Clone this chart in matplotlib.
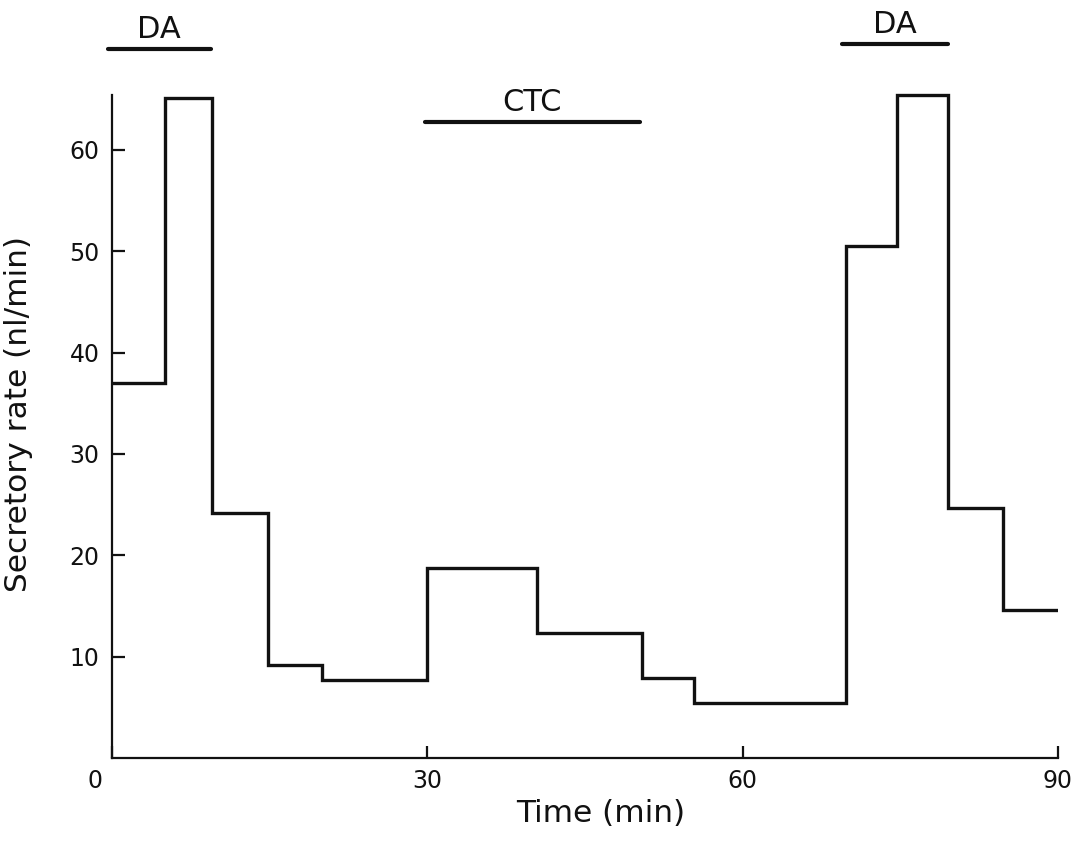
import matplotlib
matplotlib.use("Agg")
import matplotlib.pyplot as plt
import matplotlib.transforms as mtransforms

plt.rcParams["font.family"] = ["DejaVu Sans"]

# Collection-period edges (min) and the secretory rate measured in each period
edges = [0, 5, 9.5, 14.8, 20, 30, 40.4, 50.4, 55.4, 69.8, 74.7, 79.5, 84.8, 90]
rates = [37.0, 65.1, 24.2, 9.2, 7.7, 18.7, 12.3, 7.9, 5.4, 50.5, 65.4, 24.7, 14.6]

# Drug application periods shown as bars above the trace
treat_labels = ["DA", "CTC", "DA"]
treat_start = [-0.4, 29.8, 69.5]
treat_end = [9.4, 50.2, 79.5]
treat_level = [69.9, 62.7, 70.4]

xticks = [0, 30, 60, 90]
xticklabels = ["0", "30", "60", "90"]
yticks = [10, 20, 30, 40, 50, 60]
yticklabels = ["10", "20", "30", "40", "50", "60"]

ink = "#111111"

fig = plt.figure(figsize=(10.87, 8.46), dpi=100)
ax = fig.add_axes([0.1030, 0.1040, 0.8703, 0.8747])

ax.stairs(rates, edges, baseline=None, color=ink, linewidth=2.4)

for lab, x0, x1, lvl in zip(treat_labels, treat_start, treat_end, treat_level):
    ax.plot([x0, x1], [lvl, lvl], color=ink, linewidth=3.0,
            solid_capstyle="round", clip_on=False)
    ax.text((x0 + x1) / 2, lvl + 1.15, lab, ha="center", va="baseline",
            fontsize=22, color=ink, clip_on=False)

ax.set_xlim(0, 90)
ax.set_ylim(0, 73)

ax.spines["top"].set_visible(False)
ax.spines["right"].set_visible(False)
ax.spines["left"].set_bounds(0, 65.4)
for s in ("left", "bottom"):
    ax.spines[s].set_linewidth(1.6)
    ax.spines[s].set_color(ink)

ax.set_xticks(xticks)
ax.set_xticklabels(xticklabels)
ax.set_yticks(yticks)
ax.set_yticklabels(yticklabels)
ax.tick_params(axis="both", direction="in", length=9, width=1.6,
               colors=ink, labelsize=17)
ax.tick_params(axis="x", pad=8)
ax.tick_params(axis="y", pad=9)

# Origin label sits to the lower left of the corner
shift = mtransforms.ScaledTranslation(-17 / 100, 0, fig.dpi_scale_trans)
first = ax.get_xticklabels()[0]
first.set_transform(first.get_transform() + shift)

ax.set_xlabel("Time (min)", fontsize=22.5, color=ink)
ax.xaxis.set_label_coords(0.517, -0.055)
ax.set_ylabel("Secretory rate (nl/min)", fontsize=22.5, color=ink)
ax.yaxis.set_label_coords(-0.083, 0.465)

fig.savefig("out.png", dpi=100, facecolor="white")
